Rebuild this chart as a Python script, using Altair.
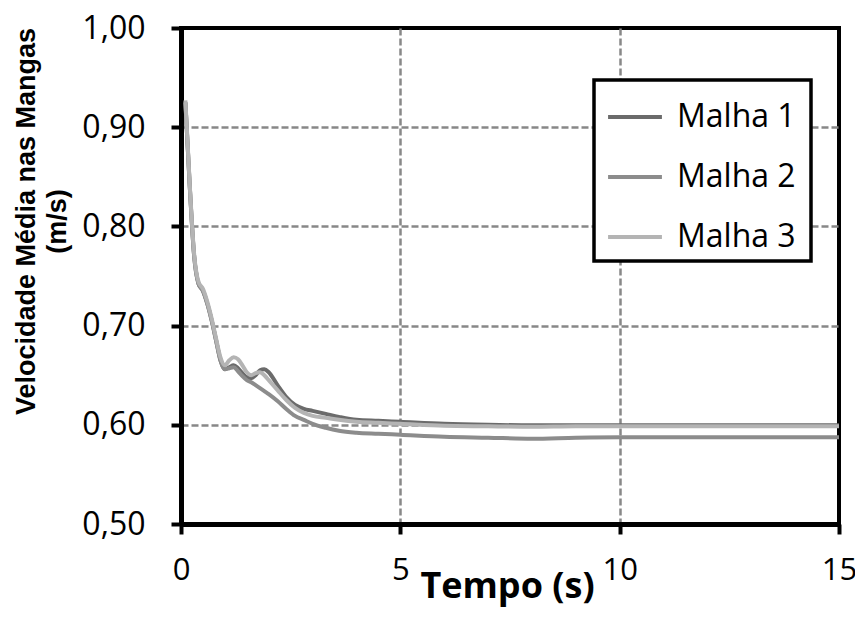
import altair as alt
import pandas as pd

tempo = [0.1, 0.2, 0.3, 0.4, 0.5, 0.6, 0.7, 0.8, 0.9, 1.0, 1.1, 1.2, 1.3, 1.4, 1.5,
         1.6, 1.7, 1.8, 1.9, 2.0, 2.2, 2.4, 2.6, 2.8, 3.0, 3.3, 3.6, 4.0, 4.5, 5.0,
         6.0, 7.0, 8.0, 9.0, 10.0, 11.0, 12.0, 13.0, 14.0, 15.0]

malha1 = [0.925, 0.840, 0.770, 0.742, 0.735, 0.722, 0.705, 0.685, 0.665, 0.656, 0.658,
          0.660, 0.657, 0.652, 0.648, 0.647, 0.650, 0.655, 0.656, 0.653, 0.640, 0.628,
          0.620, 0.616, 0.614, 0.611, 0.608, 0.605, 0.604, 0.603, 0.601, 0.600, 0.5995,
          0.5995, 0.5995, 0.5995, 0.5995, 0.5995, 0.5995, 0.5995]

malha2 = [0.925, 0.840, 0.770, 0.742, 0.735, 0.722, 0.705, 0.685, 0.665, 0.656, 0.657,
          0.658, 0.654, 0.649, 0.645, 0.643, 0.640, 0.637, 0.634, 0.631, 0.624, 0.616,
          0.609, 0.605, 0.601, 0.597, 0.594, 0.592, 0.591, 0.590, 0.588, 0.587, 0.586,
          0.587, 0.5875, 0.5875, 0.5875, 0.5875, 0.5875, 0.5875]

malha3 = [0.927, 0.842, 0.772, 0.744, 0.737, 0.724, 0.707, 0.687, 0.668, 0.660, 0.665,
          0.668, 0.666, 0.660, 0.653, 0.650, 0.652, 0.653, 0.650, 0.645, 0.635, 0.625,
          0.617, 0.612, 0.609, 0.607, 0.605, 0.603, 0.602, 0.601, 0.599, 0.5985, 0.598,
          0.5985, 0.5985, 0.5985, 0.5985, 0.5985, 0.5985, 0.5985]

series = ["Malha 1", "Malha 2", "Malha 3"]
colors = ["#6b6b6b", "#8c8c8c", "#b4b4b4"]
x_ticks = [0, 5, 10, 15]
y_ticks = [0.5, 0.6, 0.7, 0.8, 0.9, 1.0]

rows = []
for name, vals in zip(series, [malha1, malha2, malha3]):
    for t, v in zip(tempo, vals):
        rows.append({"Tempo": t, "Velocidade": v, "Serie": name})
df = pd.DataFrame(rows)

x_grid_op = {"condition": {"test": "datum.value <= 0 || datum.value >= 15", "value": 0}, "value": 1}
y_grid_op = {"condition": {"test": "datum.value <= 0.5 || datum.value >= 1.0", "value": 0}, "value": 1}

chart = alt.Chart(df).mark_line(strokeWidth=4, interpolate="monotone").encode(
    x=alt.X("Tempo:Q",
            scale=alt.Scale(domain=[0, 15], nice=False, zero=False),
            axis=alt.Axis(values=x_ticks, title="Tempo (s)",
                          titleFont="Open Sans", titleFontSize=36, titleFontWeight="bold",
                          titleColor="black", titleAlign="center", titleBaseline="alphabetic",
                          titleX=326, titleY=73,
                          labelFont="Open Sans", labelFontSize=31, labelColor="black",
                          labelFlush=False,
                          labelPadding=21, tickSize=10, tickWidth=4, tickColor="black",
                          domainColor="black", domainWidth=5,
                          gridColor="#888888", gridDash=[7, 3], gridWidth=2.5,
                          gridOpacity=x_grid_op)),
    y=alt.Y("Velocidade:Q",
            scale=alt.Scale(domain=[0.5, 1.0], nice=False, zero=False),
            axis=alt.Axis(values=y_ticks,
                          labelExpr="replace(format(datum.value, '.2f'), '.', ',')",
                          title=["Velocidade Média nas Mangas", "(m/s)"],
                          titleFont="Liberation Sans", titleFontSize=27, titleFontWeight="bold",
                          titleColor="black", titleLineHeight=31,
                          titleAngle=-90, titleAlign="center", titleBaseline="top",
                          titleX=-168, titleY=193,
                          labelFont="Open Sans", labelFontSize=32, labelColor="black",
                          labelFlush=False,
                          labelPadding=26, tickSize=10, tickWidth=4, tickColor="black",
                          domainColor="black", domainWidth=5,
                          gridColor="#888888", gridDash=[7, 3], gridWidth=2.5,
                          gridOpacity=y_grid_op)),
    color=alt.Color("Serie:N",
                    scale=alt.Scale(domain=series, range=colors),
                    legend=alt.Legend(title="l", titleOpacity=0, titleOrient="right",
                                      titleFontSize=10, titlePadding=4,
                                      orient="none", legendX=413, legendY=52,
                                      symbolType="stroke", symbolSize=2900,
                                      symbolStrokeWidth=4, symbolOffset=4,
                                      labelFont="Open Sans", labelFontSize=32,
                                      labelColor="black",
                                      labelOffset=13, rowPadding=15,
                                      strokeColor="black",
                                      fillColor="white", padding=8)),
).properties(
    width=658, height=496,
    background="white",
    autosize=alt.AutoSizeParams(type="none"),
    padding={"left": 173, "top": 20, "right": 16, "bottom": 85},
).configure_view(
    stroke="black", strokeWidth=4
).configure_legend(
    strokeWidth=3.5
)

chart.save("out.html", embed_options={"renderer": "svg", "actions": False})
